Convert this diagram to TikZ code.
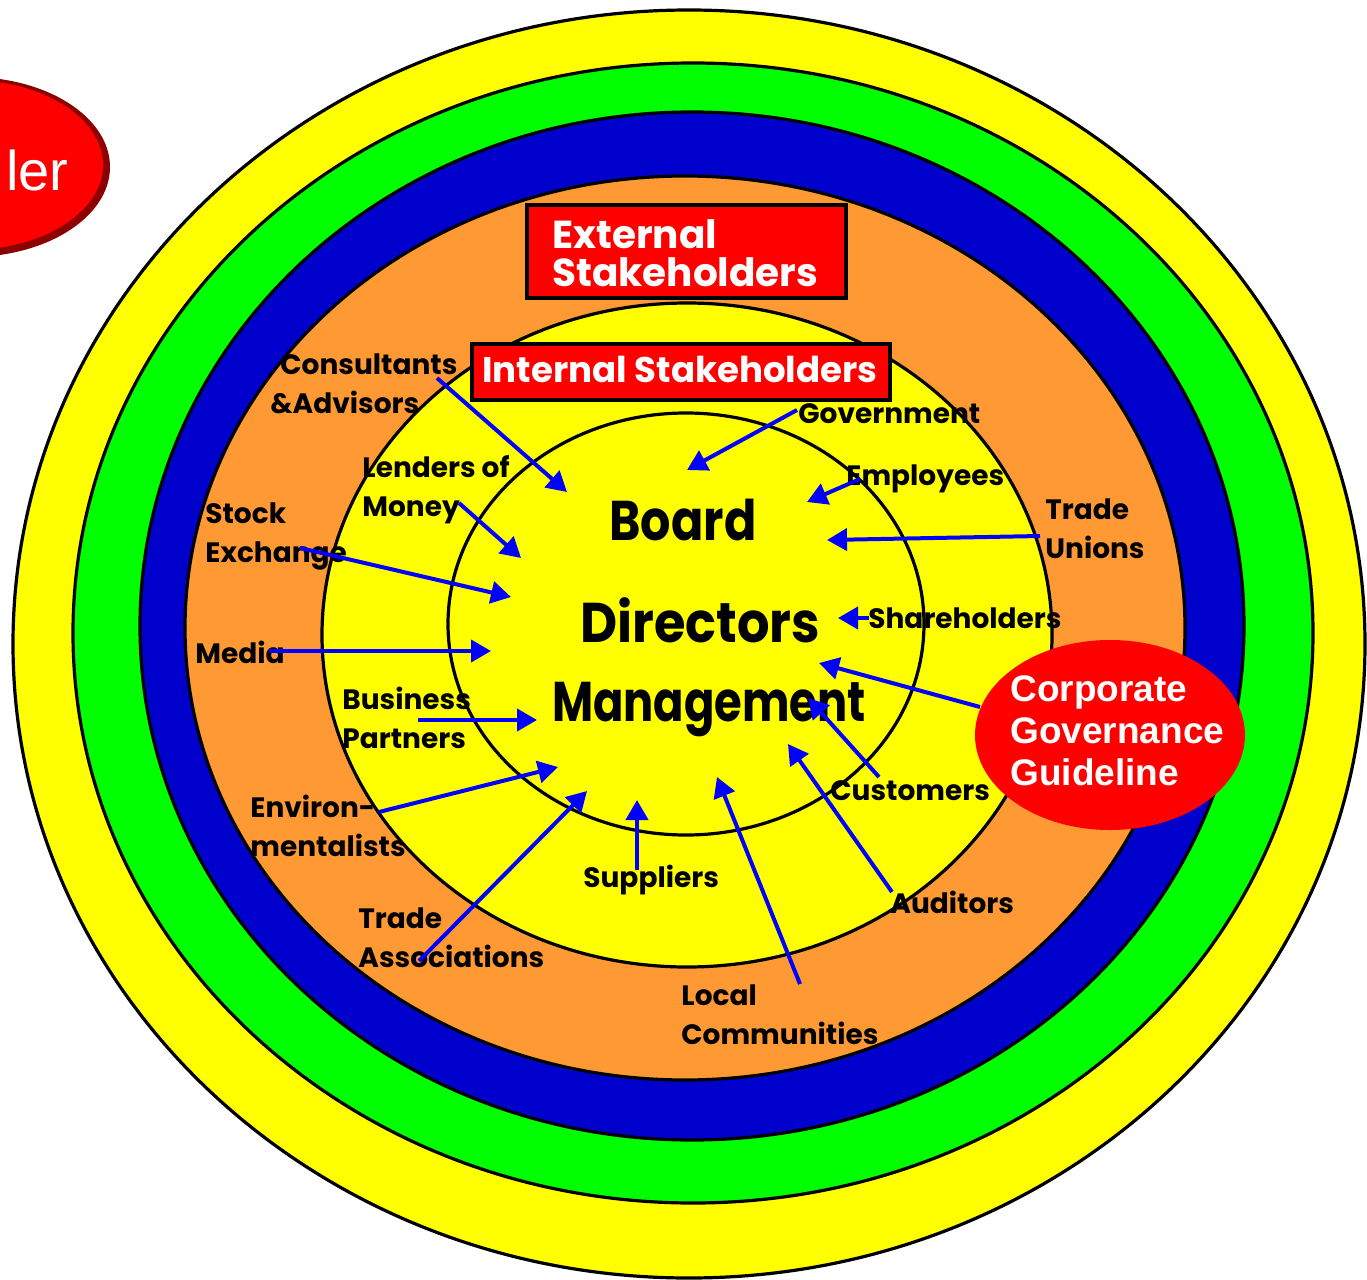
\documentclass[tikz,border=0pt]{standalone}
\usepackage{fontspec}
\setmainfont{Liberation Sans}
\newfontfamily\comic{Poppins}
\usetikzlibrary{arrows.meta,shapes.geometric}
\definecolor{ylw}{HTML}{FFFF00}
\definecolor{grn}{HTML}{00FF00}
\definecolor{blu}{HTML}{0000CC}
\definecolor{org}{HTML}{FF9933}
\definecolor{rd}{HTML}{FF0000}
\definecolor{arr}{HTML}{0000FF}
\begin{document}
\begin{tikzpicture}[x=0.5pt,y=-0.5pt,
  ring/.style={draw=black,line width=1.6pt},
  lbl/.style={font=\comic\bfseries\fontsize{14}{19.5}\selectfont, align=left, inner sep=0pt, anchor=west, text=black},
  ctr/.style={font=\comic\bfseries\fontsize{28}{34}\selectfont, inner sep=0pt, text=black},
  boxtxt/.style={font=\comic\bfseries\fontsize{19.5}{20}\selectfont, text=white, align=left, inner sep=0pt, anchor=west},
  rbox/.style={draw=black, line width=1.6pt, fill=rd},
  arrow/.style={draw=arr, line width=2pt, -{Triangle[length=10pt,width=11pt]}},
  cgtxt/.style={font=\bfseries\fontsize{18.5}{21}\selectfont, text=white, align=left, inner sep=0pt, anchor=west}
]
\useasboundingbox (0,0) rectangle (1367,1280);
\clip (0,0) rectangle (1367,1280);
\fill[white] (0,0) rectangle (1367,1280);

% top-left red ellipse (cut)
\fill[rd!55!black] (-30,167) ellipse [x radius=70pt, y radius=45pt];
\fill[rd] (-32,165) ellipse [x radius=67.5pt, y radius=42.5pt];
\node[font=\fontsize{28}{30}\selectfont, text=white, anchor=base east, inner sep=0pt] (ler) at (69,190) {ler};

% rings
\path[ring, fill=ylw] (689,644) ellipse [x radius=338pt, y radius=317pt];
\path[ring, fill=grn] (693,633) ellipse [x radius=310pt, y radius=285pt];
\path[ring, fill=blu] (692,626) ellipse [x radius=276pt, y radius=257pt];
\path[ring, fill=org] (685,628) ellipse [x radius=250pt, y radius=226pt];
\path[ring, fill=ylw] (687,635) ellipse [x radius=182.5pt, y radius=166pt];
\path[ring, fill=ylw] (686,624) ellipse [x radius=119pt, y radius=105.5pt];

% boxes
\draw[rbox] (527,205) rectangle (846,298);
\node[boxtxt] (ext) at (552,253) {External\\[-1pt]Stakeholders};
\draw[rbox] (472,344) rectangle (890,400);
\node[boxtxt, anchor=center, font=\comic\bfseries\fontsize{17.8}{20}\selectfont] (int) at (680,369) {Internal Stakeholders};

% centre
\node[ctr] (board) at (683,520) {\resizebox{73.5pt}{\height}{Board}};
\node[ctr] (dir) at (700,620) {\resizebox{120pt}{\height}{Directors}};
\node[ctr] (mgmt) at (709,710) {\resizebox{157pt}{\height}{Management}};

% corporate governance ellipse
\node[ellipse, fill=rd, draw=none, minimum width=135pt, minimum height=95pt, inner sep=0pt] (cg) at (1110,735) {};
\node[cgtxt] (cgt) at (1010,731) {Corporate\\Governance\\Guideline};

% labels
\node[lbl] (cons) at (270,384) {\hspace*{5pt}Consultants\\\&Advisors};
\node[lbl] (lend) at (362,490) {Lenders of\\Money};
\node[lbl] (stock) at (205,536) {Stock\\Exchange};
\node[lbl] (media) at (195,652) {Media};
\node[lbl] (bus) at (342,718) {Business\\Partners};
\node[lbl] (env) at (250,826) {Environ-\\mentalists};
\node[lbl] (tass) at (358,938) {Trade\\Associations};
\node[lbl] (sup) at (583,880) {Suppliers};
\node[lbl] (loc) at (681,1015) {Local\\Communities};
\node[lbl] (aud) at (890,902) {Auditors};
\node[lbl] (cust) at (830,791) {Customers};
\node[lbl] (share) at (868,618) {Shareholders};
\node[lbl] (tun) at (1045,529) {Trade\\Unions};
\node[lbl] (emp) at (846,479) {Employees};
\node[lbl] (gov) at (798,414) {Government};

% arrow end points
\coordinate (consS) at (437,378); \coordinate (consT) at (567,492);
\coordinate (lendS) at (459,503); \coordinate (lendT) at (521,558);
\coordinate (stockS) at (300,548); \coordinate (stockT) at (511,597);
\coordinate (mediaS) at (269,651); \coordinate (mediaT) at (491,651);
\coordinate (busS) at (418,720); \coordinate (busT) at (537,720);
\coordinate (envS) at (379,812); \coordinate (envT) at (558,767);
\coordinate (tassS) at (419,961); \coordinate (tassT) at (587,791);
\coordinate (supS) at (637,870); \coordinate (supT) at (637,800);
\coordinate (locS) at (800,984); \coordinate (locT) at (717,777);
\coordinate (audS) at (892,892); \coordinate (audT) at (788,744);
\coordinate (custS) at (879,777); \coordinate (custT) at (808,698);
\coordinate (cgS) at (980,707); \coordinate (cgT) at (819,663);
\coordinate (shareS) at (869,618); \coordinate (shareT) at (838,618);
\coordinate (tunS) at (1040,536); \coordinate (tunT) at (827,540);
\coordinate (empS) at (860,479); \coordinate (empT) at (807,502);
\coordinate (govS) at (797,410); \coordinate (govT) at (687,470);

\foreach \a in {cons,lend,stock,media,bus,env,tass,sup,loc,aud,cust,cg,share,tun,emp,gov}
  \draw[arrow] (\a S) -- (\a T);
\end{tikzpicture}
\end{document}
